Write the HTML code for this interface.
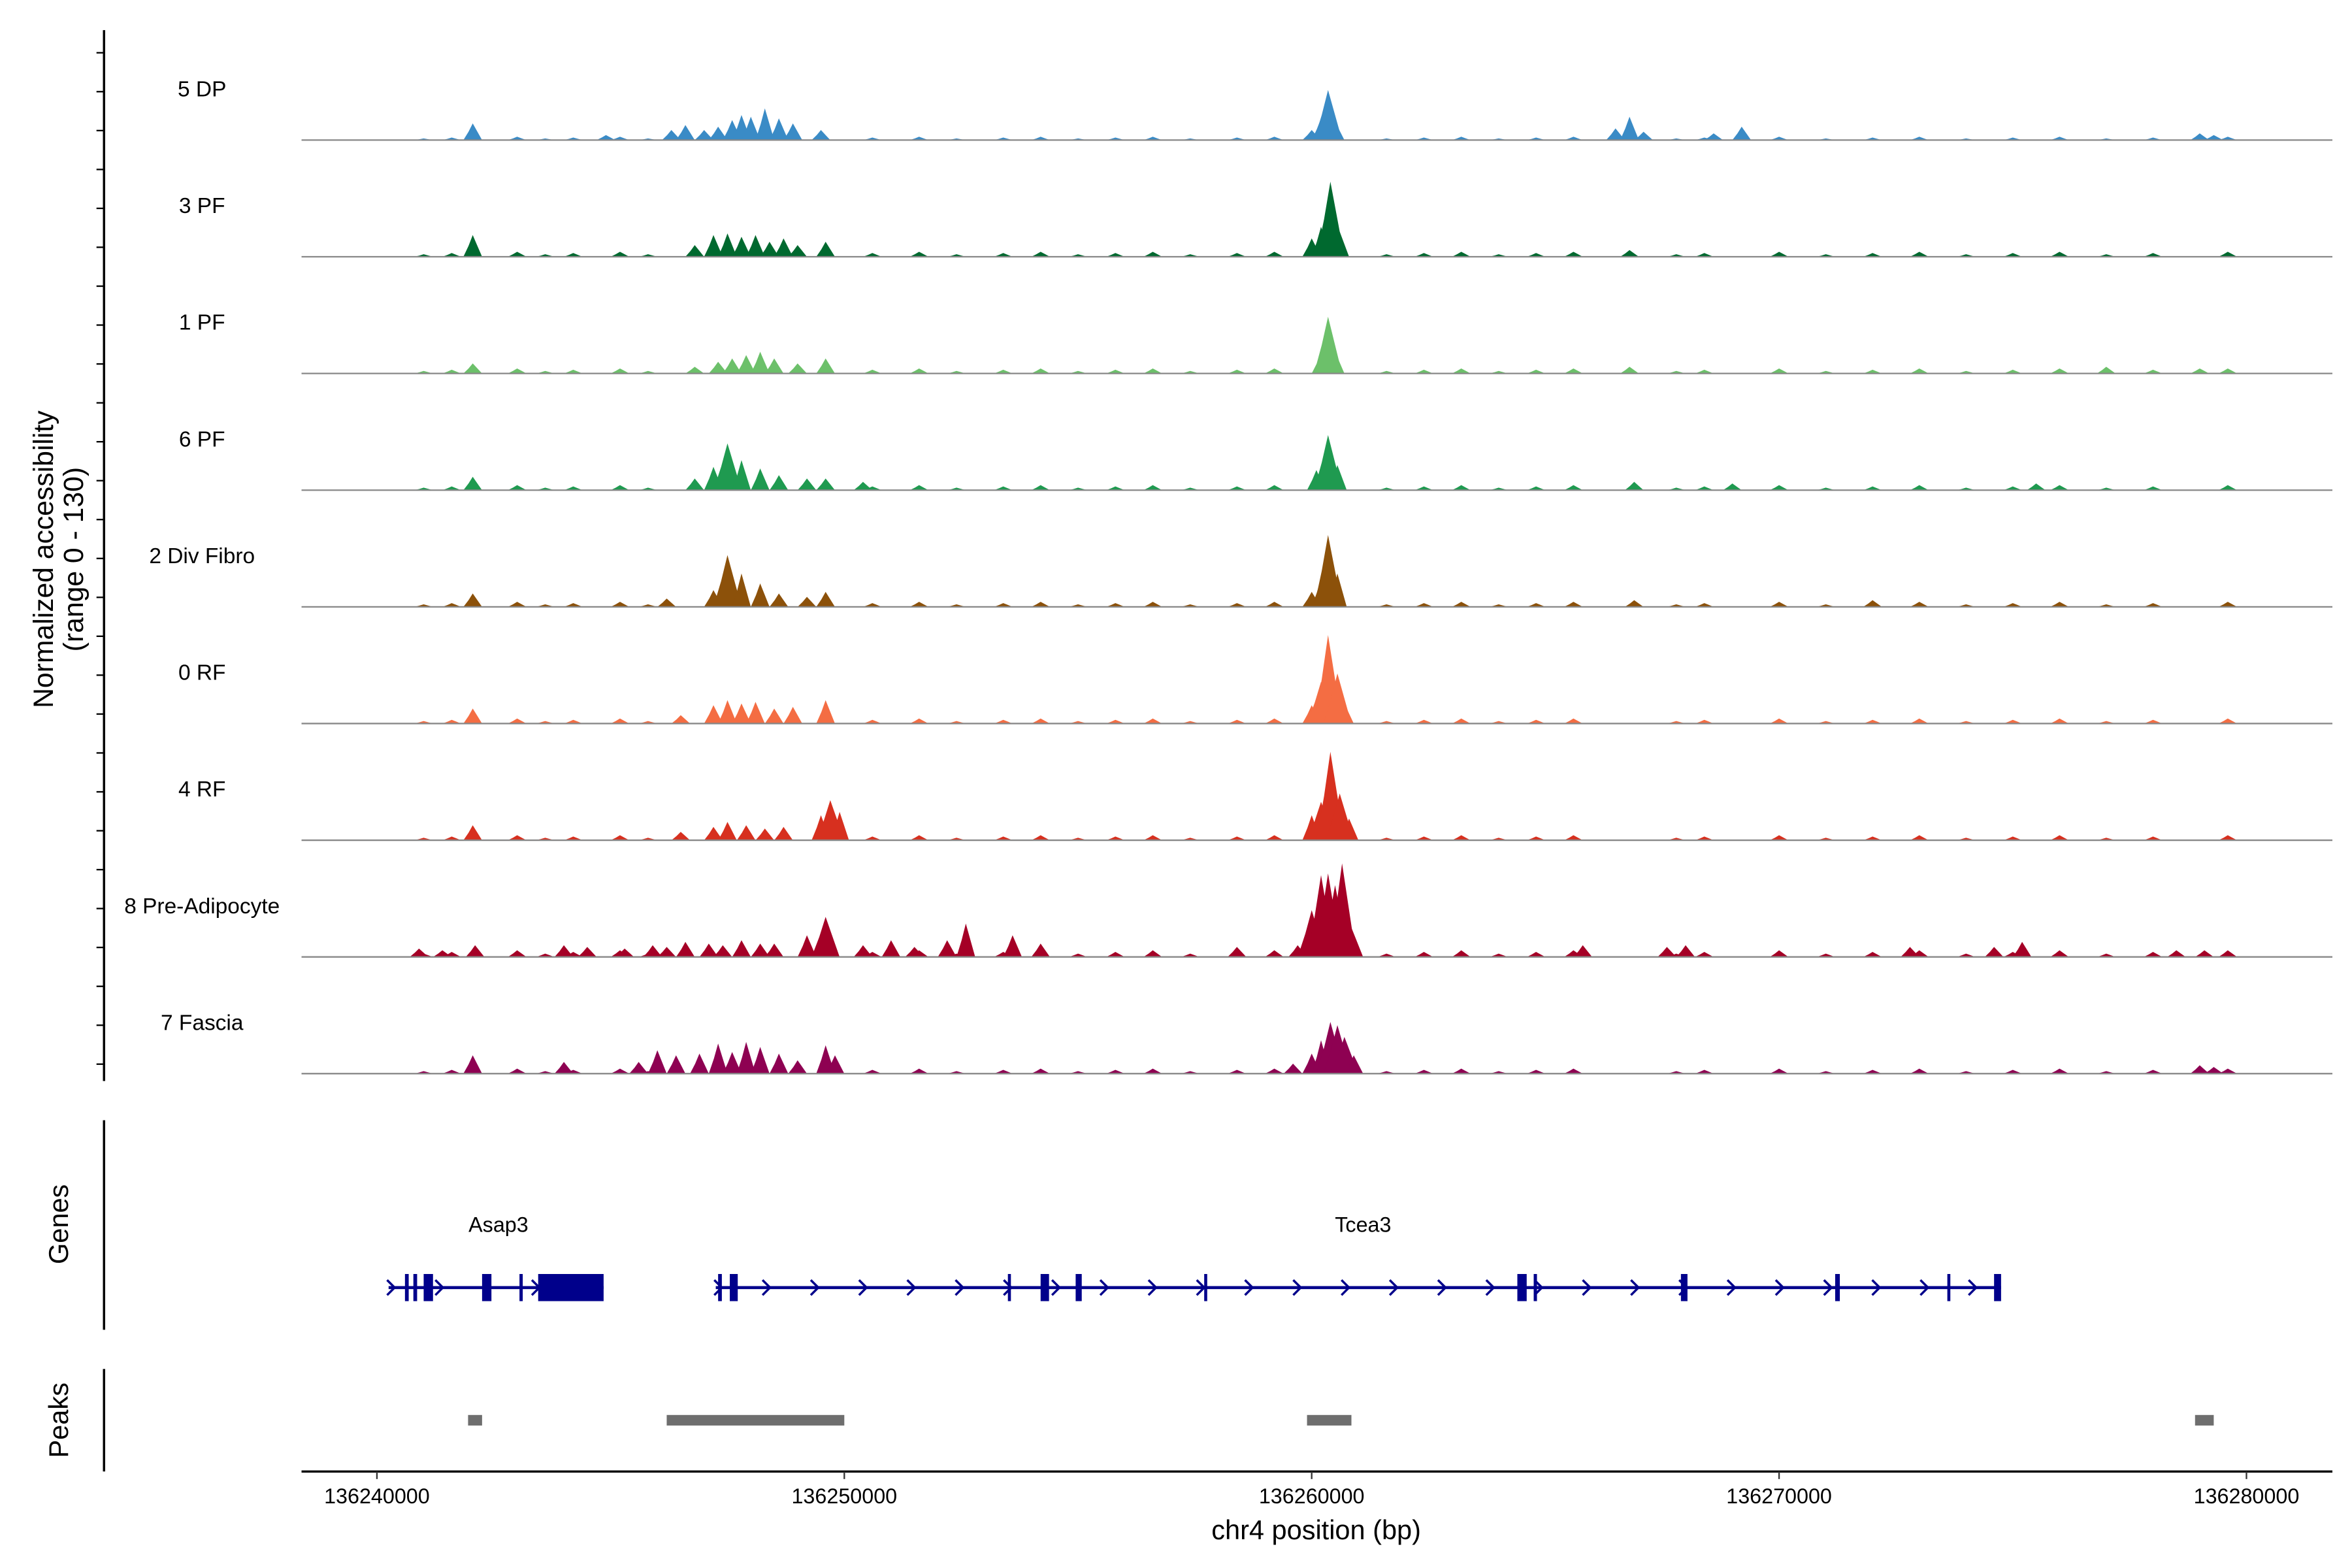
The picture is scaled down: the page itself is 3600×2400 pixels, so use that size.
<!DOCTYPE html>
<html><head><meta charset="utf-8"><style>
html,body{margin:0;padding:0;background:#fff}
svg{display:block}
text{font-family:"Liberation Sans",Arial,sans-serif;fill:#000}
</style></head><body>
<svg id="chart" width="3600" height="2400" viewBox="0 0 1560 1040" preserveAspectRatio="none" xmlns="http://www.w3.org/2000/svg">
<g id="tracks"></g>
<g id="genes"></g>
<g id="peaks"></g>
<g id="axes"></g>
</svg>
<script>
// ---- data (positions in kb relative to 136240000; values in normalized accessibility 0-130) ----
const trackNames = ["5 DP","3 PF","1 PF","6 PF","2 Div Fibro","0 RF","4 RF","8 Pre-Adipocyte","7 Fascia"];
const trackColors = ["#3a8bc6","#00692f","#6cc06a","#1f9a50","#8c510a","#f46d43","#d7301f","#a50026","#8e0152"];
const noisePos = [1.0,1.6,3.0,3.6,4.2,5.2,5.8,10.6,11.6,12.4,13.4,14.2,15.0,15.8,16.6,17.4,18.4,19.2,21.6,22.4,23.2,24.0,24.8,25.6,27.8,28.4,30.0,31.0,32.0,33.0,34.0,35.0,36.0,37.0,38.0,39.6];
const trackNoise = [2,3,3,3,3,3,3,4,3];
const peakPos = [
 [2.05,4.9,6.3,6.6,7.0,7.3,7.6,7.8,8.0,8.3,8.6,8.9,9.5,20.0,20.2,20.35,20.5,26.5,26.8,27.1,28.6,29.2,39.0,39.3],
 [2.05,6.8,7.2,7.5,7.8,8.1,8.4,8.7,9.0,9.6,20.0,20.2,20.4,20.6,26.8],
 [2.05,6.8,7.3,7.6,7.9,8.2,8.5,9.0,9.6,20.2,20.35,20.5,26.8,37.0,39.0],
 [2.05,6.8,7.2,7.5,7.8,8.2,8.6,9.2,9.6,10.4,20.1,20.35,20.55,26.9,29.0,35.5],
 [2.05,6.2,7.2,7.5,7.8,8.2,8.6,9.2,9.6,20.0,20.2,20.35,20.55,26.9,32.0],
 [2.05,6.5,7.2,7.5,7.8,8.1,8.5,8.9,9.6,20.0,20.2,20.35,20.55,20.7],
 [2.05,6.5,7.2,7.5,7.9,8.3,8.7,9.5,9.7,9.9,20.0,20.2,20.4,20.6,20.8],
 [0.9,1.4,2.1,4.0,4.5,5.3,5.9,6.2,6.6,7.1,7.4,7.8,8.2,8.5,9.2,9.6,10.4,11.0,11.5,12.2,12.6,13.6,14.2,18.4,19.2,19.7,20.0,20.2,20.35,20.5,20.65,20.8,25.8,27.6,28.0,32.8,34.6,35.2,38.5,39.1],
 [2.05,4.0,5.6,6.0,6.4,6.9,7.3,7.6,7.9,8.2,8.6,9.0,9.6,9.8,19.6,20.0,20.2,20.4,20.55,20.7,20.9,39.0,39.3]
];
const peakVal = [
 [20,6,12,18,12,16,24,30,28,38,26,20,12,12,26,60,22,14,28,10,8,16,8,6],
 [26,14,26,28,24,26,18,22,14,18,22,36,90,30,8],
 [12,8,14,18,22,26,18,12,18,24,68,26,8,8,6],
 [16,14,28,56,36,26,18,14,14,10,24,66,30,10,8,8],
 [16,10,20,62,40,28,16,12,18,18,34,86,40,8,8],
 [18,10,22,28,24,26,18,20,28,22,50,106,60,24],
 [18,10,16,22,18,14,16,30,48,34,30,46,106,56,26],
 [10,8,14,14,12,10,14,12,18,16,14,20,16,16,26,48,14,20,12,20,40,26,16,12,8,14,56,98,100,86,112,42,14,12,14,12,12,18,8,8],
 [22,14,14,28,22,24,36,26,38,32,24,16,34,22,12,24,40,62,58,44,22,10,8]
];
// genes
const geneNames = ["Asap3","Tcea3"];
const geneStart = [0.25,7.25];
const geneEnd = [4.85,34.75];
const geneLabelPos = [2.6,21.1];
const exonStart = [[0.6,0.78,1.0,2.25,3.05,3.45],[7.3,7.55,13.5,14.2,14.95,17.7,24.4,24.75,27.9,31.2,33.6,34.6]];
const exonEnd   = [[0.68,0.86,1.2,2.45,3.12,4.85],[7.38,7.72,13.56,14.38,15.08,17.76,24.6,24.82,28.04,31.3,33.66,34.75]];
const peakStart = [1.95,6.2,19.9,38.9];
const peakEnd = [2.25,10.0,20.85,39.3];
const xTicks = [0,10,20,30,40];
const xTickLabels = ["136240000","136250000","136260000","136270000","136280000"];

// ---- scales ----
const NS="http://www.w3.org/2000/svg";
const xS = kb => 250 + kb*31;
const trackTop = 15.5, trackH = 77.4;
const yS = (i,v) => trackTop + trackH*(i+1) - v*(72/130);
function mk(tag, attrs, parent){const e=document.createElementNS(NS,tag);for(const k in attrs)e.setAttribute(k,attrs[k]);parent.appendChild(e);return e;}

const gT=document.getElementById('tracks');
trackNames.forEach((name,i)=>{
  const g=mk('g',{},gT);
  
  
  const base=yS(i,0);
  const pts=[];
  noisePos.forEach((p,j)=>{const v=trackNoise[i]*(1+(j%3)*0.5);pts.push([p,v]);});
  peakPos[i].forEach((p,j)=>pts.push([p,peakVal[i][j]]));
  pts.forEach(([p,v])=>{
    const w = v>40?0.3:0.2;
    const poly=mk('polygon',{points:`${xS(p-w)},${base} ${xS(p-w*0.45)},${yS(i,v*0.5)} ${xS(p)},${yS(i,v)} ${xS(p+w*0.45)},${yS(i,v*0.55)} ${xS(p+w)},${base}`,fill:trackColors[i]},g);
    
    
  });
  const ln=mk('line',{x1:200,x2:1547,y1:base,y2:base,stroke:'#888','stroke-width':1},g);
  
  
  const t=mk('text',{x:134,y:base-29,'font-size':14.5,'text-anchor':'middle'},g);
  t.textContent=name;
  
  
});

// genes
const gG=document.getElementById('genes');
const gy=854, gc='#00008b';
geneNames.forEach((n,i)=>{
  const g=mk('g',{},gG);
  
  
  mk('line',{x1:xS(geneStart[i]),x2:xS(geneEnd[i]),y1:gy,y2:gy,stroke:gc,'stroke-width':2},g);
  for(let x=xS(geneStart[i])+2;x<xS(geneEnd[i]);x+=32){
    mk('polyline',{points:`${x-3},${gy-5} ${x+2},${gy} ${x-3},${gy+5}`,fill:'none',stroke:gc,'stroke-width':1.5},g);
  }
  exonStart[i].forEach((s,j)=>{
    const w=Math.max(2,xS(exonEnd[i][j])-xS(s));
    const h = 18;
    const r=mk('rect',{x:xS(s),y:gy-h/2,width:w,height:h,fill:gc},g);
    
    
  });
  const t=mk('text',{x:xS(geneLabelPos[i]),y:817,'font-size':14,'text-anchor':'middle'},g);
  t.textContent=n;
  
  
});

// peaks
const gP=document.getElementById('peaks');
peakStart.forEach((s,i)=>{
  const r=mk('rect',{x:xS(s),y:938.5,width:xS(peakEnd[i])-xS(s),height:7,fill:'#6e6e6e'},gP);
  
  
});

// axes
const gA=document.getElementById('axes');
mk('line',{x1:69,x2:69,y1:20,y2:717,stroke:'#000','stroke-width':1.5},gA);
for(let y=35;y<=717;y+=25.8){mk('line',{x1:64,x2:69,y1:y,y2:y,stroke:'#000','stroke-width':1},gA);}
mk('line',{x1:69,x2:69,y1:743,y2:882,stroke:'#000','stroke-width':1.5},gA);
mk('line',{x1:69,x2:69,y1:908,y2:976,stroke:'#000','stroke-width':1.5},gA);
const xa=mk('line',{x1:200,x2:1547,y1:976,y2:976,stroke:'#000','stroke-width':1.5},gA);


xTicks.forEach((k,i)=>{
  mk('line',{x1:xS(k),x2:xS(k),y1:976,y2:981,stroke:'#333'},gA);
  const t=mk('text',{x:xS(k),y:997,'font-size':14,'text-anchor':'middle',fill:'#4d4d4d'},gA);
  t.textContent=xTickLabels[i];
  
  
});
function rtext(x,y,s,name,fs){const t=mk('text',{x:x,y:y,'font-size':fs,'text-anchor':'middle',transform:`rotate(-90 ${x} ${y})`},gA);t.textContent=s;}
rtext(35,371,'Normalized accessibility','y-axis-title',18.5);
rtext(55,371,'(range 0 - 130)','y-axis-subtitle',18.5);
rtext(45,812,'Genes','genes-axis-title',18);
rtext(45,942,'Peaks','peaks-axis-title',18);
const xt=mk('text',{x:873,y:1021,'font-size':18,'text-anchor':'middle'},gA);
xt.textContent='chr4 position (bp)';


</script>
</body></html>
